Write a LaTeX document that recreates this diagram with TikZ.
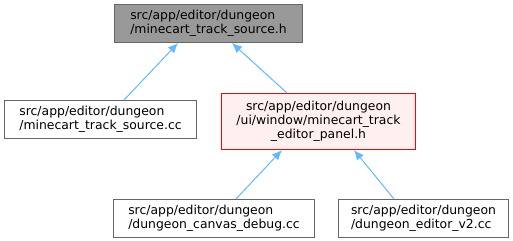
\documentclass[tikz,border=0pt]{standalone}
\usepackage{fontspec}
\setmainfont{DejaVu Sans}
\usetikzlibrary{arrows.meta,calc}
\begin{document}
\begin{tikzpicture}[x=0.75pt,y=-0.75pt,
  box/.style={draw=black!60, fill=white, line width=0.75pt, rectangle, inner sep=0pt,
    font=\fontsize{9.3pt}{10.6pt}\selectfont},
  edge/.style={draw={rgb,255:red,99;green,184;blue,255}, line width=0.75pt,
    -{Latex[length=7.5pt,width=6.5pt]}}
]
\useasboundingbox (0,0) rectangle (513,241);
\node[box, fill=black!40, minimum width=188*0.75pt, minimum height=38*0.75pt, align=left, anchor=north west] (top) at (114,4)
  {src/app/editor/dungeon\\/minecart\_track\_source.h};
\node[box, minimum width=192*0.75pt, minimum height=38*0.75pt, align=left, anchor=north west] (cc) at (4,100)
  {src/app/editor/dungeon\\/minecart\_track\_source.cc};
\node[box, draw={rgb,255:red,255;green,0;blue,0}, fill={rgb,255:red,255;green,240;blue,240}, minimum width=194*0.75pt, minimum height=56*0.75pt, align=center, anchor=north west] (panel) at (221,93)
  {src/app/editor/dungeon\\/ui/window/minecart\_track\\\_editor\_panel.h};
\node[box, minimum width=201*0.75pt, minimum height=38*0.75pt, align=left, anchor=north west] (dbg) at (113,199)
  {src/app/editor/dungeon\\/dungeon\_canvas\_debug.cc};
\node[box, minimum width=170*0.75pt, minimum height=38*0.75pt, align=left, anchor=north west] (v2) at (338,199)
  {src/app/editor/dungeon\\/dungeon\_editor\_v2.cc};
\draw[edge] ($(cc.north west)+(120,0)$) -- ($(top.south west)+(64,0)$);
\draw[edge] ($(panel.north west)+(66,0)$) -- ($(top.south west)+(118,0)$);
\draw[edge] ($(dbg.north west)+(123,0)$) -- ($(panel.south west)+(61,0)$);
\draw[edge] ($(v2.north west)+(56,0)$) -- ($(panel.south west)+(133,0)$);
\end{tikzpicture}
\end{document}
